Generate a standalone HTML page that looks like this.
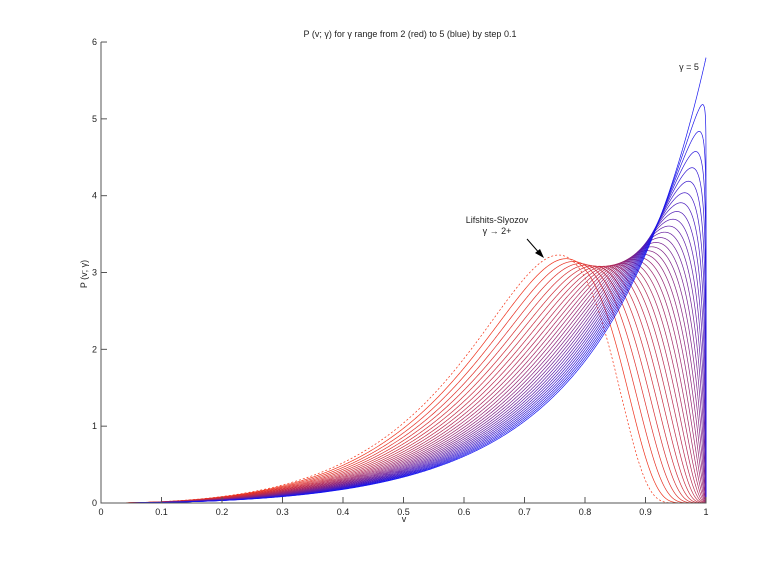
<!DOCTYPE html>
<html><head><meta charset="utf-8"><style>
html,body{margin:0;padding:0;background:#fff;}
svg{display:block;font-family:"Liberation Sans",sans-serif;}
</style></head><body>
<svg id="s" width="780" height="565" xmlns="http://www.w3.org/2000/svg">
<rect width="780" height="565" fill="#fff"/>
<g id="curves" fill="none" stroke-width="0.7"></g>
<g stroke="#555" stroke-width="1" fill="none">
<line x1="101" y1="42" x2="101" y2="503.5"/>
<line x1="100.5" y1="503" x2="706.5" y2="503"/>
</g>
<g id="ticks" stroke="#555" stroke-width="1"></g>
<g id="lbl" font-size="9" fill="#222"></g>
<text x="410" y="37" font-size="9" text-anchor="middle" fill="#222">P (v; γ) for γ range from 2 (red) to 5 (blue) by step 0.1</text>
<text x="404" y="522" font-size="9" text-anchor="middle" fill="#222">v</text>
<text transform="translate(87,274) rotate(-90)" font-size="9" text-anchor="middle" fill="#222">P (v; γ)</text>
<text x="689" y="70" font-size="9" text-anchor="middle" fill="#222">γ = 5</text>
<text x="497" y="223" font-size="9" text-anchor="middle" fill="#222">Lifshits-Slyozov</text>
<text x="497" y="234" font-size="9" text-anchor="middle" fill="#222">γ → 2+</text>
<line x1="527" y1="239" x2="541" y2="255" stroke="#000" stroke-width="1"/>
<polygon points="544,258 535,253 540,249" fill="#000"/>
</svg>
<script>
(function(){
var NS="http://www.w3.org/2000/svg";
var X=function(v){return 101+v*605;}, Y=function(p){return 503-p*76.83;};
var tk=document.getElementById('ticks'), lb=document.getElementById('lbl');
function el(p,tag,a,t){var e=document.createElementNS(NS,tag);for(var k in a)e.setAttribute(k,a[k]);if(t!==undefined)e.textContent=t;p.appendChild(e);}
for(var i=0;i<=10;i++){var x=X(i/10);
 el(tk,'line',{x1:x,y1:503,x2:x,y2:497});
 el(lb,'text',{x:x,y:515,'text-anchor':'middle'},i==0?'0':i==10?'1':(i/10).toFixed(1));}
for(var j=0;j<=6;j++){var y=Y(j);
 el(tk,'line',{x1:101,y1:y,x2:107,y2:y});
 el(lb,'text',{x:97,y:y+3,'text-anchor':'end'},String(j));}
var N=1500, us=[];
for(var i=0;i<=N;i++){var u=i/N;us.push(1-Math.pow(1-u,3));}
var cg=document.getElementById('curves');
for(var k=0;k<=30;k++){
 var g=2+k*0.1; var t=k/30;
 var vals=[];
 if(k==0){
  var r1=1.5;
  for(var i=0;i<=N;i++){var v=us[i],r=v*r1,val;
   if(v>=1||v<=0)val=0;else val=r*r*Math.pow(3/(3+r),7/3)*Math.pow(1.5/(1.5-r),11/3)*Math.exp(-r/(1.5-r));
   vals.push(val);}
 }else{
  var r1=1+1/g, kap=3*(r1-1)/Math.pow(r1,3), c=r1*r1-3/kap;
  var d=Math.sqrt(r1*r1-4*c), r2=(-r1+d)/2, r3=(-r1-d)/2;
  var R=[r1,r2,r3], A=[];
  for(var a=0;a<3;a++){var pr=1;for(var b=0;b<3;b++)if(b!=a)pr*=(R[a]-R[b]);A.push(-3*R[a]*R[a]/pr);}
  for(var i=0;i<=N;i++){var v=us[i],r=v*r1,val;
   if(v<=0){val=0;}else{
    var L=2*Math.log(r),bad=false;
    for(var a=0;a<3;a++){var e=A[a]-1,dd=Math.abs(r-R[a]);
     if(Math.abs(e)<1e-9)continue;
     if(dd<1e-14){if(e>0){bad=true;break;}else{dd=1e-9;}}
     L+=e*Math.log(dd);}
    val=bad?0:Math.exp(L);
   }
   vals.push(val);}
 }
 var I=0;for(var i=1;i<=N;i++)I+=(us[i]-us[i-1])*(vals[i]+vals[i-1])/2;
 var d="";
 for(var i=0;i<=N;i++){d+=(i?"L":"M")+X(us[i]).toFixed(2)+","+Y(vals[i]/I).toFixed(2);}
 var col="rgb("+Math.round(245*(1-t)+20*t)+","+Math.round(50*(1-t)+20*t)+","+Math.round(20*(1-t)+240*t)+")";
 var at={d:d,stroke:col};
 if(k==0)at['stroke-dasharray']='2,2';
 el(cg,'path',at);
}
})();
</script>
</body></html>
